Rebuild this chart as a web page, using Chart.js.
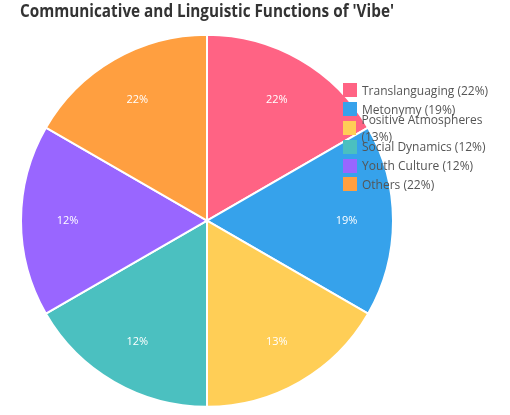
<!DOCTYPE html>
<html lang="en">
<head>
<meta charset="UTF-8">
<title>Vibe Pie</title>
<script src="https://cdn.jsdelivr.net/npm/chart.js"></script>
<style>
  body { margin: 0; background: #fff; font-family: "Open Sans", sans-serif; }
  .wrap { position: relative; width: 510px; height: 415px; }
  #legend { position: absolute; left: 343px; top: 81px; font-size: 12px; color: #555; }
  #legend div { height: 18.8px; display: flex; align-items: center; }
  #legend span.box { width: 14px; height: 14px; margin-right: 5px; display: inline-block; }
</style>
</head>
<body>
<div class="wrap">
  <canvas id="myChart" width="510" height="415"></canvas>
  <div id="legend"></div>
</div>
<script>
const categories = ['Translanguaging', 'Metonymy', 'Positive Atmospheres', 'Social Dynamics', 'Youth Culture', 'Others'];
const percents = [22, 19, 13, 12, 12, 22];
// slices in the picture are drawn equal-sized
const sliceValues = [1, 1, 1, 1, 1, 1];
const colors = ['#FF6384', '#36A2EB', '#FFCE56', '#4BC0C0', '#9966FF', '#FF9F40'];

const labelPlugin = {
    id: 'sliceLabels',
    afterDatasetsDraw(chart) {
        const ctx = chart.ctx;
        const meta = chart.getDatasetMeta(0);
        ctx.save();
        ctx.fillStyle = '#fff';
        ctx.font = '11px "Open Sans", sans-serif';
        ctx.textAlign = 'center';
        ctx.textBaseline = 'middle';
        meta.data.forEach((arc, i) => {
            const mid = (arc.startAngle + arc.endAngle) / 2;
            const r = arc.outerRadius * 0.75;
            ctx.fillText(percents[i] + '%', arc.x + Math.cos(mid) * r, arc.y + Math.sin(mid) * r);
        });
        ctx.restore();
    }
};

new Chart(document.getElementById('myChart'), {
    type: 'pie',
    data: {
        labels: categories,
        datasets: [{
            data: sliceValues,
            backgroundColor: colors,
            borderColor: '#fff',
            borderWidth: 2
        }]
    },
    options: {
        responsive: false,
        animation: false,
        layout: { padding: { left: 20, right: 116, top: 0, bottom: 4 } },
        plugins: {
            legend: { display: false },
            tooltip: { enabled: false },
            title: {
                display: true,
                text: "Communicative and Linguistic Functions of 'Vibe'",
                align: 'start',
                color: '#333',
                font: { size: 17, weight: 'bold', family: '"Open Sans", sans-serif' },
                padding: { top: 2, bottom: 8 }
            }
        }
    },
    plugins: [labelPlugin]
});

document.getElementById('legend').innerHTML = categories.map((c, i) =>
    `<div><span class="box" style="background:${colors[i]}"></span>${c} (${percents[i]}%)</div>`).join('');
</script>
</body>
</html>
